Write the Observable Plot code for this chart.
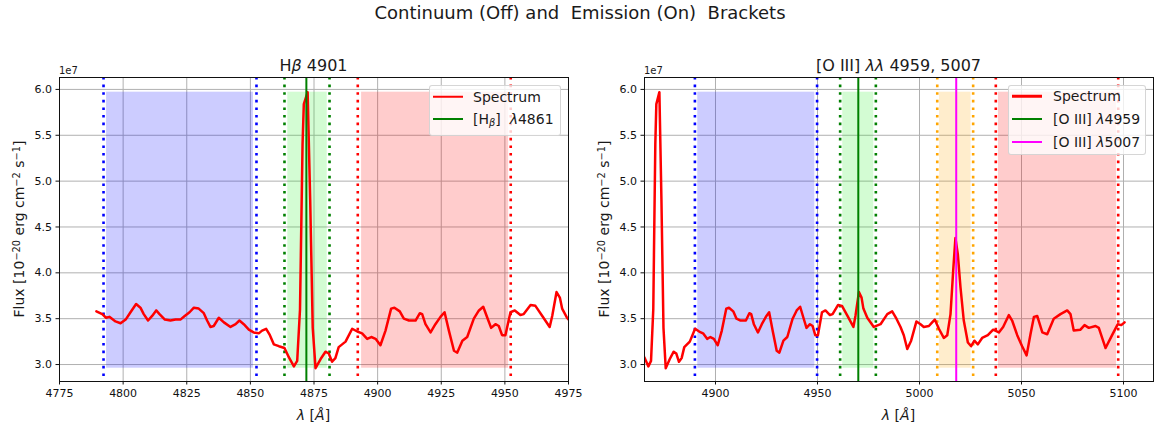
<!DOCTYPE html>
<html><head><meta charset="utf-8">
<script src="https://cdn.jsdelivr.net/npm/d3@7"></script>
<script src="https://cdn.jsdelivr.net/npm/@observablehq/plot@0.6"></script>
<style>
body{margin:0;background:#fff;font-family:"DejaVu Sans",sans-serif;color:#1a1a1a}
#wrap{position:relative;width:1155px;height:429px;overflow:hidden;background:#fff}
.t{position:absolute;white-space:pre;line-height:1;transform:translate(-50%,-50%)}
.rot{transform:translate(-50%,-50%) rotate(-90deg)}
.lg{position:absolute;background:rgba(255,255,255,0.8);border:1px solid rgba(204,204,204,0.8);border-radius:3px;box-sizing:border-box}
.sw{position:absolute;height:2.5px;width:30px;transform:translateY(-50%)}
.lt{position:absolute;white-space:pre;font-size:14px;line-height:1;transform:translateY(-50%)}
sup{font-size:70%;vertical-align:0.45em;line-height:0}
sub{font-size:70%;vertical-align:-0.25em;line-height:0}
svg{position:absolute;top:0}
</style></head><body><div id="wrap"></div>
<script>
// Spectrum (flux in units of 1e7)
const wavelength = [4789.5,4791.8,4793.3,4794.6,4797.0,4799.0,4801.0,4802.9,4805.1,4806.8,4808.1,4809.8,4811.4,4813.0,4814.3,4816.4,4818.6,4820.6,4822.5,4824.2,4826.1,4827.8,4829.7,4831.7,4833.0,4834.3,4835.6,4837.6,4839.6,4842.2,4844.2,4845.7,4847.4,4849.4,4851.3,4853.3,4854.6,4856.2,4857.5,4859.2,4861.2,4863.4,4865.1,4867.1,4868.4,4869.5,4870.5,4871.0,4872.5,4873.5,4874.5,4875.6,4877.6,4879.5,4880.8,4882.1,4883.4,4884.7,4887.4,4890.0,4892.0,4893.9,4895.9,4897.5,4899.2,4901.1,4903.1,4905.3,4906.6,4908.7,4910.3,4912.3,4914.9,4916.6,4917.5,4918.8,4920.8,4922.7,4924.7,4926.3,4928.0,4930.0,4931.3,4933.3,4935.2,4937.8,4939.8,4941.5,4943.1,4944.6,4946.3,4947.6,4948.9,4950.2,4952.2,4953.9,4956.1,4957.4,4960.1,4962.0,4964.7,4967.6,4968.6,4970.3,4971.6,4972.5,4974.4,4977.6,4980.9,4984.2,4986.6,4988.7,4990.7,4992.3,4994.0,4995.9,4998.5,5000.5,5002.1,5004.6,5006.2,5007.5,5009.5,5011.9,5013.6,5015.2,5016.5,5017.6,5018.8,5020.1,5021.7,5023.7,5025.3,5026.9,5028.6,5030.7,5033.5,5036.1,5038.9,5041.0,5043.8,5045.4,5047.9,5050.3,5052.5,5054.4,5056.1,5057.7,5060.2,5062.6,5065.8,5069.1,5072.4,5074.0,5075.6,5078.9,5080.9,5083.0,5086.3,5087.9,5091.2,5094.4,5097.2,5098.9,5100.5];
const flux = [3.58,3.55,3.51,3.52,3.47,3.45,3.49,3.57,3.66,3.62,3.55,3.48,3.53,3.59,3.55,3.49,3.48,3.49,3.49,3.53,3.57,3.62,3.61,3.56,3.48,3.41,3.42,3.51,3.46,3.41,3.44,3.48,3.44,3.38,3.35,3.34,3.37,3.39,3.33,3.22,3.20,3.18,3.08,2.98,3.04,3.60,5.40,5.84,5.97,4.80,3.40,2.96,3.06,3.14,3.12,3.03,3.07,3.19,3.25,3.39,3.36,3.34,3.28,3.30,3.28,3.21,3.37,3.61,3.62,3.58,3.50,3.48,3.48,3.56,3.55,3.44,3.35,3.44,3.52,3.57,3.37,3.15,3.13,3.26,3.30,3.50,3.59,3.63,3.51,3.40,3.44,3.42,3.32,3.32,3.57,3.59,3.54,3.55,3.65,3.64,3.53,3.41,3.53,3.79,3.73,3.61,3.51,3.41,3.44,3.55,3.58,3.50,3.41,3.32,3.17,3.26,3.47,3.44,3.41,3.42,3.46,3.49,3.39,3.29,3.32,3.55,4.02,4.38,4.20,3.84,3.48,3.24,3.20,3.26,3.22,3.29,3.32,3.38,3.35,3.41,3.54,3.48,3.32,3.20,3.10,3.33,3.52,3.53,3.35,3.33,3.50,3.55,3.59,3.55,3.37,3.38,3.43,3.40,3.42,3.40,3.18,3.32,3.44,3.43,3.46];

// Axis ticks
const yTicks = [3.0,3.5,4.0,4.5,5.0,5.5,6.0];
const yDomain = [2.815,6.13];
const hbXTicks = [4775,4800,4825,4850,4875,4900,4925,4950,4975];
const hbXDomain = [4775,4975];
const o3XTicks = [4900,4950,5000,5050,5100];
const o3XDomain = [4865.2,5114.7];

// Hβ panel brackets
const hbBracketEdges = [[4792.3,4852.4],[4863.4,4881.1],[4892.2,4952.3]];
const hbBracketShade = [[4793.5,4851.2],[4864.7,4880.2],[4893.7,4951.5]];
const hbBracketColor = ["blue","#22ee22","red"];
const hbLinePos = [4872.0];
const hbLineColor = ["green"];

// [O III] panel brackets
const o3BracketEdges = [[4889.9,4949.8],[4961.1,4978.6],[5008.7,5026.3],[5037.4,5097.4]];
const o3BracketShade = [[4891.3,4948.7],[4962.4,4977.6],[5009.8,5025.3],[5038.7,5096.6]];
const o3BracketColor = ["blue","#22ee22","orange","red"];
const o3LinePos = [4970.0,5018.0];
const o3LineColor = ["green","magenta"];

const spec = wavelength.map((w,i)=>({w, f: flux[i]}));
const yMin = d3.min(flux), yMax = d3.max(flux);
const dotColor = c => c === "#22ee22" ? "green" : c;

function panel(xDomain, xTicks, edges, shades, colors, linePos, lineColor, width, marginRight) {
  const shadeData = shades.map((s,i)=>({x1:s[0], x2:s[1], c:colors[i]}));
  const edgeData = edges.flatMap((e,i)=>e.map(x=>({x, c:dotColor(colors[i])})));
  const lineData = linePos.map((x,i)=>({x, c:lineColor[i]}));
  return Plot.plot({
    width, height: 429, marginLeft: 59, marginRight, marginTop: 77, marginBottom: 48,
    style: {fontFamily: "DejaVu Sans", fontSize: "11px", color: "#111", background: "transparent", overflow: "visible"},
    x: {domain: xDomain, label: null},
    y: {domain: yDomain, label: null},
    color: {type: "identity"},
    marks: [
      Plot.gridX(xTicks, {stroke: "#b0b0b0", strokeOpacity: 1, strokeWidth: 1}),
      Plot.gridY(yTicks, {stroke: "#b0b0b0", strokeOpacity: 1, strokeWidth: 1}),
      Plot.rect(shadeData, {x1: "x1", x2: "x2", y1: () => yMin, y2: () => yMax, fill: "c", fillOpacity: 0.2}),
      Plot.ruleX(edgeData, {x: "x", stroke: "c", strokeWidth: 2.6, strokeDasharray: "2.6,5"}),
      Plot.line(spec, {x: "w", y: "f", stroke: "red", strokeWidth: 2.5, clip: true, strokeLinejoin: "round"}),
      Plot.ruleX(lineData, {x: "x", stroke: "c", strokeWidth: 2}),
      Plot.frame({stroke: "#111", strokeWidth: 1}),
      Plot.axisX({ticks: xTicks, tickFormat: d => String(d), tickSize: 3.5, tickPadding: 4, label: null, color: "#111"}),
      Plot.axisY({ticks: yTicks, tickFormat: d => d.toFixed(1), tickSize: 3.5, tickPadding: 4, label: null, color: "#111"})
    ]
  });
}

const wrap = document.getElementById("wrap");
const p1 = panel(hbXDomain, hbXTicks, hbBracketEdges, hbBracketShade, hbBracketColor, hbLinePos, hbLineColor, 585, 17);
p1.style.left = "0px";
wrap.appendChild(p1);
const p2 = panel(o3XDomain, o3XTicks, o3BracketEdges, o3BracketShade, o3BracketColor, o3LinePos, o3LineColor, 570, 2);
p2.style.left = "585px";
wrap.appendChild(p2);

function txt(html, x, y, css, cls="t") {
  const d = document.createElement("div");
  d.className = cls;
  d.innerHTML = html;
  d.style.left = x + "px"; d.style.top = y + "px";
  d.style.cssText += css;
  wrap.appendChild(d);
  return d;
}
txt("Continuum (Off) and  Emission (On)  Brackets", 580, 13, "font-size:18px;");
txt("H<i>β</i> 4901", 313.5, 66, "font-size:16px;");
txt("[O III] <i>λλ</i> 4959, 5007", 898.5, 66, "font-size:16px;");
txt("1e7", 59, 71, "font-size:10px;transform:translate(0,-50%);");
txt("1e7", 644, 71, "font-size:10px;transform:translate(0,-50%);");
const ylab = "Flux [10<sup>−20</sup> erg cm<sup>−2</sup> s<sup>−1</sup>]";
txt(ylab, 18.5, 229, "font-size:14px;", "t rot");
txt(ylab, 603.5, 229, "font-size:14px;", "t rot");
txt("<i>λ</i> [<i>Å</i>]", 313.5, 415, "font-size:14px;");
txt("<i>λ</i> [<i>Å</i>]", 898.5, 415, "font-size:14px;");

function legend(x, y, w, h, items, swX, textX, rows) {
  const b = document.createElement("div");
  b.className = "lg";
  b.style.cssText += `left:${x}px;top:${y}px;width:${w}px;height:${h}px;`;
  wrap.appendChild(b);
  items.forEach((it, i) => {
    const s = document.createElement("div");
    s.className = "sw";
    s.style.cssText += `left:${swX}px;top:${rows[i]}px;background:${it.c};height:${it.w}px;`;
    wrap.appendChild(s);
    const t = document.createElement("div");
    t.className = "lt";
    t.innerHTML = it.label;
    t.style.cssText += `left:${textX}px;top:${rows[i]}px;`;
    wrap.appendChild(t);
  });
}
legend(429, 85, 132, 51, [
  {label: "Spectrum", c: "red", w: 2.5},
  {label: "[H<sub><i>β</i></sub>]  <i>λ</i>4861", c: "green", w: 2}
], 433, 473, [96.7, 119]);
legend(1008, 85, 138, 70, [
  {label: "Spectrum", c: "red", w: 2.5},
  {label: "[O III] <i>λ</i>4959", c: "green", w: 2},
  {label: "[O III] <i>λ</i>5007", c: "magenta", w: 2}
], 1012, 1053, [96.3, 119.3, 142]);
</script>
</body></html>
